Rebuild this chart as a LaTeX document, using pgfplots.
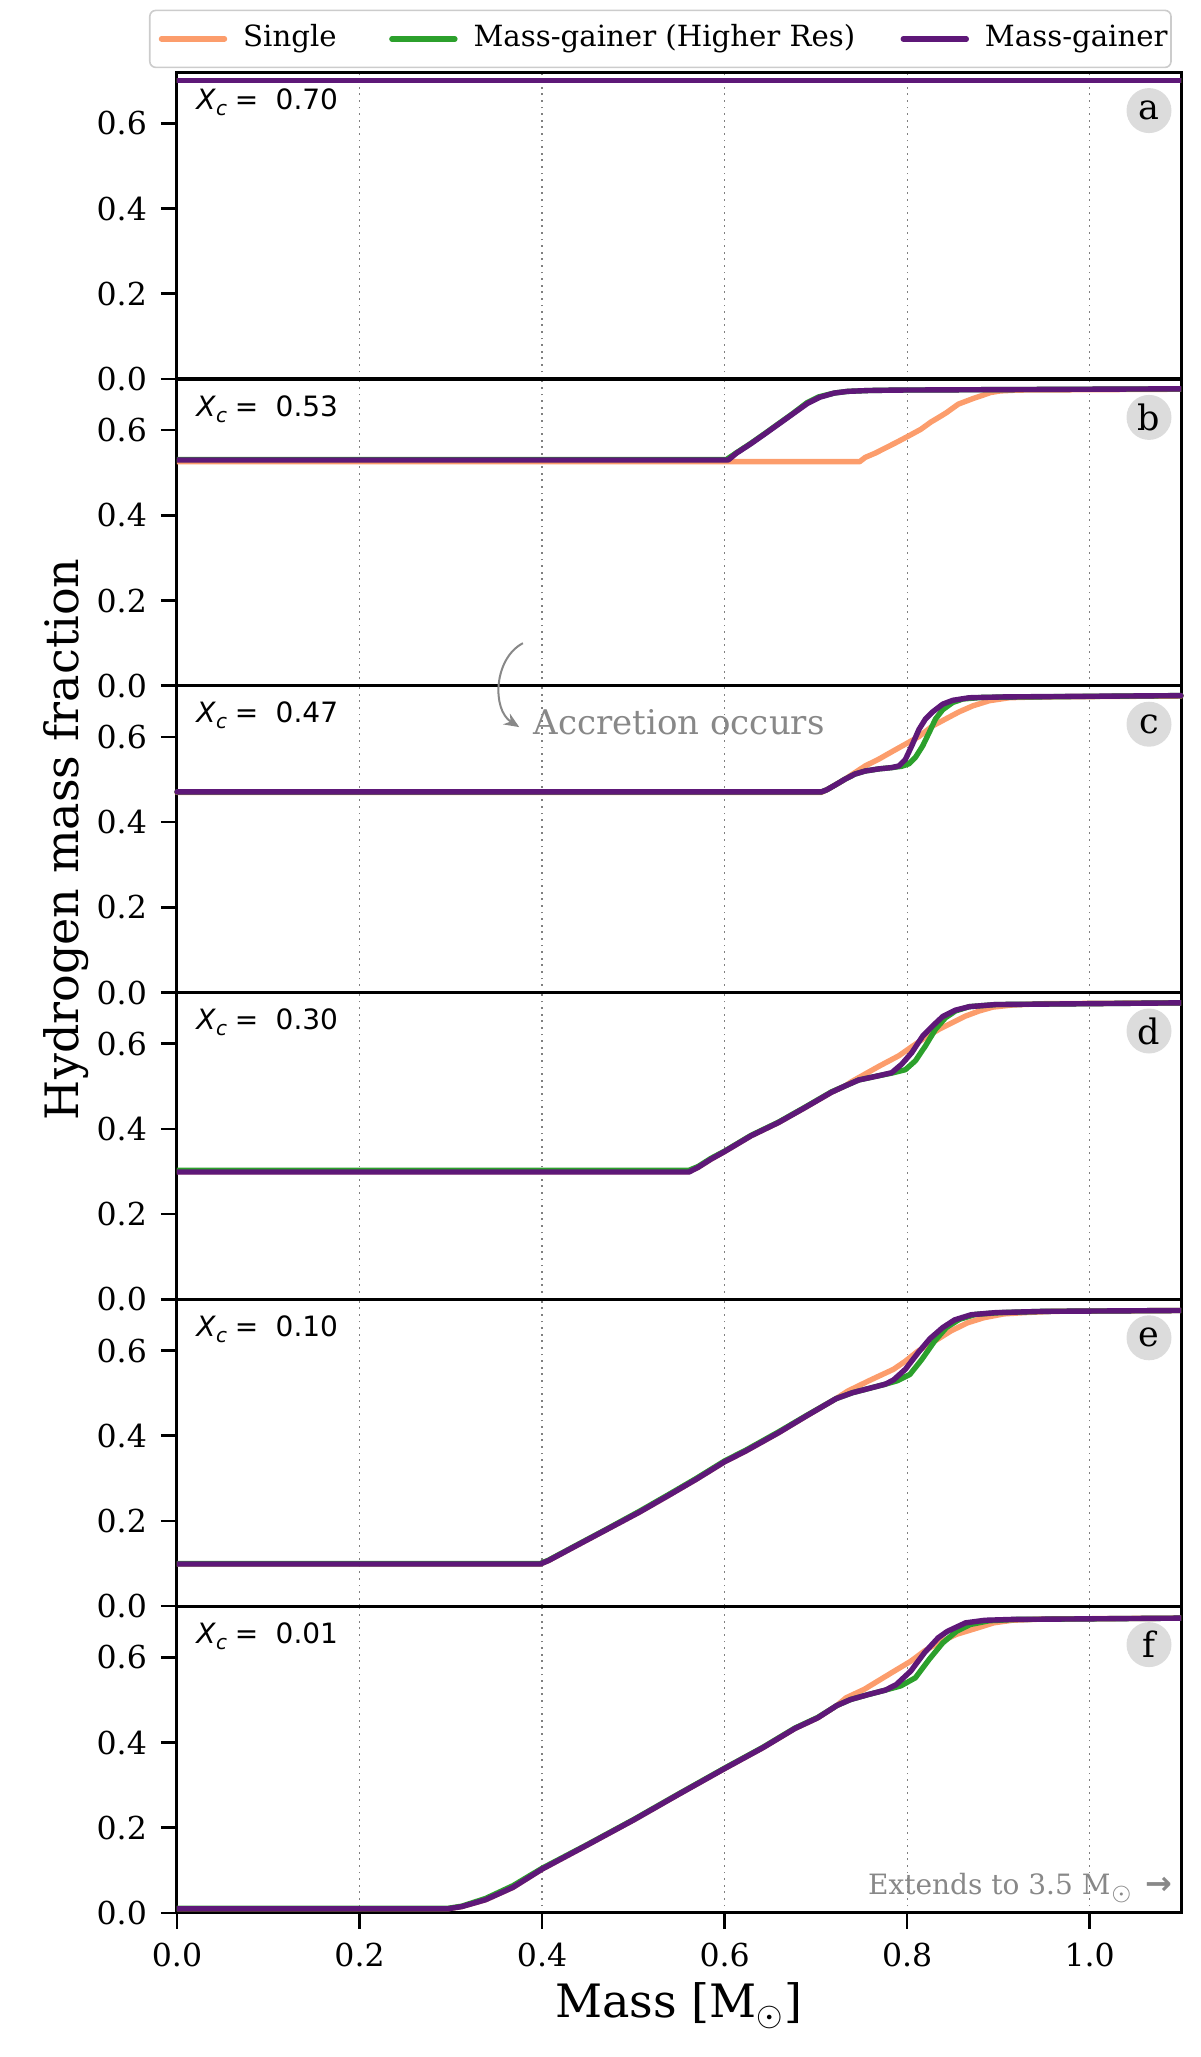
\documentclass[border=0pt]{standalone}
\usepackage{fontspec}
\setmainfont{DejaVu Serif}
\newfontfamily\dvsans{DejaVu Sans}
\usepackage{pgfplots}
\pgfplotsset{compat=1.18}
\usetikzlibrary{arrows.meta}

\definecolor{cSingle}{RGB}{252,157,108}
\definecolor{cHR}{RGB}{44,160,44}
\definecolor{cMG}{RGB}{94,24,120}
\definecolor{circ}{RGB}{220,220,220}
\definecolor{annot}{RGB}{136,136,136}

\newcommand{\xc}[1]{{\dvsans\fontsize{7}{8}\selectfont\textit{X}\raisebox{-0.22em}{\fontsize{5}{6}\selectfont\textit{c}}\hspace{0.28em}=\hspace{0.62em}#1}}

\pgfplotsset{
 panel/.style={
  scale only axis, width=251pt, height=76.7pt,
  xmin=0, xmax=1.1, ymin=0, ymax=0.72,
  axis line style={line width=0.75pt},
  xtick={0,0.2,0.4,0.6,0.8,1.0},
  ytick={0,0.2,0.4,0.6},
  xmajorgrids,
  major grid style={black!50, line width=0.3pt, dash pattern=on 0.45pt off 1.2pt},
  tick align=outside, xtick pos=lower, ytick pos=left,
  major tick length=4pt,
  every tick/.style={black, line width=0.65pt},
  tick label style={font=\fontsize{7.9}{9}\selectfont},
  /pgf/number format/assume math mode=true,
  yticklabel style={/pgf/number format/.cd, fixed, fixed zerofill, precision=1},
  xticklabel style={/pgf/number format/.cd, fixed, fixed zerofill, precision=1},
  every axis plot/.append style={line width=1.35pt, line join=round, line cap=round},
 },
 inner/.style={xticklabels={}, xtick style={draw=none}},
}

\newcommand{\tag}[1]{\node[circle, fill=circ, minimum size=11.25pt, inner sep=0pt, font=\fontsize{8.75}{9}\selectfont] at ([xshift=-8pt,yshift=-9.6pt]rel axis cs:1,1) {#1};}
\newcommand{\xclabel}[1]{\node[anchor=base west, inner sep=0pt] at ([xshift=4.65pt,yshift=-9.25pt]rel axis cs:0,1) {\xc{#1}};}

\begin{document}
\begin{tikzpicture}

% ---------------- panel a
\begin{axis}[panel, inner, at={(0,383.5pt)},
  legend columns=3,
  legend cell align=left,
  legend image code/.code={\draw[#1, line width=1.35pt] (0pt,0pt) -- (15.75pt,0pt);},
  legend style={at={(rel axis cs:0,1)}, anchor=south west, xshift=-7pt, yshift=1pt,
    draw=black!20, line width=0.4pt, rounded corners=1.5pt,
    font=\fontsize{7.3}{8.5}\selectfont,
    inner xsep=2.25pt, inner ysep=3.6pt,
    nodes={inner xsep=0pt, inner ysep=0pt},
    /tikz/every odd column/.append style={column sep=4pt},
    /tikz/every even column/.append style={column sep=0pt}},
]
\addplot[cSingle] coordinates {(0,0.700) (1.1,0.700)};
\addlegendentry{\makebox[36.5pt][l]{Single}}
\addplot[cHR] coordinates {(0,0.700) (1.1,0.700)};
\addlegendentry{\makebox[106.75pt][l]{Mass-gainer (Higher Res)}}
\addplot[cMG] coordinates {(0,0.700) (1.1,0.700)};
\addlegendentry{\makebox[44.25pt][l]{Mass-gainer}}
\xclabel{0.70}
\tag{a}
\end{axis}

% ---------------- panel b
\begin{axis}[panel, inner, at={(0,306.8pt)}]
\addplot[cSingle] coordinates {(0,0.526) (0.748,0.526) (0.754,0.536) (0.765,0.546) (0.788,0.571) (0.803,0.588) (0.815,0.602) (0.826,0.619) (0.837,0.633) (0.843,0.641) (0.856,0.661) (0.872,0.674) (0.883,0.682) (0.891,0.688) (0.902,0.692) (0.921,0.694) (1.1,0.696)};
\addplot[cHR] coordinates {(0,0.531) (0.602,0.531) (0.613,0.547) (0.628,0.568) (0.644,0.592) (0.659,0.615) (0.674,0.638) (0.690,0.664) (0.703,0.678) (0.720,0.687) (0.735,0.691) (0.758,0.693) (0.788,0.694) (1.1,0.697)};
\addplot[cMG] coordinates {(0,0.530) (0.604,0.530) (0.613,0.546) (0.628,0.567) (0.644,0.591) (0.659,0.614) (0.674,0.637) (0.691,0.663) (0.704,0.677) (0.720,0.687) (0.735,0.691) (0.758,0.693) (0.788,0.694) (1.1,0.697)};
\xclabel{0.53}
\tag{b}
\end{axis}

% ---------------- panel c
\begin{axis}[panel, inner, at={(0,230.1pt)}, clip=false,
  ylabel={Hydrogen mass fraction},
  ylabel style={font=\fontsize{11.5}{13}\selectfont, at={([xshift=-24.5pt]rel axis cs:0,0.5)}, anchor=base, rotate=0},
]
\addplot[cSingle] coordinates {(0,0.470) (0.706,0.470) (0.712,0.476) (0.721,0.487) (0.732,0.501) (0.739,0.511) (0.754,0.532) (0.769,0.548) (0.783,0.565) (0.798,0.583) (0.813,0.601) (0.828,0.626) (0.842,0.642) (0.857,0.659) (0.872,0.673) (0.890,0.685) (0.912,0.692) (0.945,0.694) (1.1,0.696)};
\addplot[cHR] coordinates {(0,0.471) (0.706,0.471) (0.712,0.476) (0.721,0.487) (0.732,0.501) (0.743,0.513) (0.754,0.520) (0.769,0.525) (0.783,0.528) (0.794,0.531) (0.802,0.537) (0.809,0.552) (0.817,0.579) (0.824,0.610) (0.831,0.642) (0.839,0.664) (0.850,0.681) (0.861,0.689) (0.883,0.693) (1.1,0.697)};
\addplot[cMG] coordinates {(0,0.471) (0.706,0.471) (0.712,0.476) (0.721,0.487) (0.732,0.501) (0.743,0.513) (0.754,0.520) (0.769,0.525) (0.783,0.528) (0.791,0.532) (0.798,0.547) (0.805,0.579) (0.813,0.618) (0.820,0.642) (0.828,0.659) (0.839,0.677) (0.850,0.686) (0.868,0.692) (0.908,0.694) (1.1,0.697)};
\xclabel{0.47}
\tag{c}
\node[anchor=base west, inner sep=0pt, text=annot, font=\fontsize{8.5}{9}\selectfont] at (axis cs:0.390,0.605) {Accretion occurs};
\draw[annot, line width=0.5pt, -{Stealth[length=3.8pt, width=3.2pt]}] (axis cs:0.379,0.820) to[bend right=60] (axis cs:0.375,0.623);
\end{axis}

% ---------------- panel d
\begin{axis}[panel, inner, at={(0,153.4pt)}]
\addplot[cSingle] coordinates {(0,0.300) (0.561,0.300) (0.571,0.310) (0.585,0.329) (0.6,0.347) (0.629,0.384) (0.659,0.415) (0.688,0.450) (0.717,0.486) (0.732,0.501) (0.739,0.511) (0.754,0.529) (0.769,0.547) (0.791,0.572) (0.805,0.593) (0.820,0.615) (0.835,0.634) (0.850,0.650) (0.864,0.665) (0.879,0.677) (0.894,0.686) (0.916,0.691) (0.950,0.694) (1.1,0.696)};
\addplot[cHR] coordinates {(0,0.303) (0.561,0.303) (0.571,0.312) (0.585,0.331) (0.6,0.348) (0.629,0.385) (0.659,0.416) (0.688,0.451) (0.717,0.487) (0.732,0.501) (0.747,0.515) (0.769,0.525) (0.783,0.531) (0.798,0.539) (0.809,0.560) (0.820,0.595) (0.831,0.634) (0.842,0.661) (0.853,0.677) (0.868,0.687) (0.897,0.692) (1.1,0.696)};
\addplot[cMG] coordinates {(0,0.299) (0.561,0.299) (0.571,0.310) (0.585,0.329) (0.6,0.347) (0.629,0.384) (0.659,0.415) (0.688,0.450) (0.717,0.486) (0.732,0.501) (0.747,0.515) (0.769,0.525) (0.783,0.532) (0.794,0.552) (0.805,0.579) (0.817,0.618) (0.828,0.642) (0.839,0.664) (0.853,0.679) (0.868,0.687) (0.897,0.692) (1.1,0.696)};
\xclabel{0.30}
\tag{d}
\end{axis}

% ---------------- panel e
\begin{axis}[panel, inner, at={(0,76.7pt)}]
\addplot[cSingle] coordinates {(0,0.099) (0.398,0.099) (0.407,0.107) (0.434,0.138) (0.470,0.179) (0.506,0.220) (0.537,0.258) (0.569,0.298) (0.6,0.339) (0.623,0.364) (0.659,0.407) (0.690,0.447) (0.722,0.487) (0.735,0.505) (0.758,0.529) (0.785,0.556) (0.798,0.575) (0.812,0.599) (0.830,0.622) (0.848,0.646) (0.866,0.665) (0.884,0.677) (0.906,0.686) (0.929,0.689) (0.960,0.692) (1.1,0.694)};
\addplot[cHR] coordinates {(0,0.100) (0.398,0.100) (0.407,0.108) (0.434,0.139) (0.470,0.180) (0.506,0.222) (0.537,0.260) (0.569,0.300) (0.6,0.341) (0.623,0.366) (0.659,0.409) (0.690,0.448) (0.722,0.487) (0.740,0.501) (0.758,0.511) (0.776,0.521) (0.789,0.529) (0.803,0.544) (0.816,0.579) (0.830,0.622) (0.843,0.654) (0.857,0.673) (0.875,0.685) (0.902,0.689) (0.950,0.692) (1.1,0.694)};
\addplot[cMG] coordinates {(0,0.099) (0.398,0.099) (0.407,0.107) (0.434,0.138) (0.470,0.179) (0.506,0.220) (0.537,0.258) (0.569,0.298) (0.6,0.339) (0.623,0.364) (0.659,0.407) (0.690,0.447) (0.722,0.487) (0.740,0.501) (0.758,0.511) (0.776,0.521) (0.785,0.531) (0.798,0.556) (0.812,0.595) (0.825,0.628) (0.839,0.654) (0.852,0.672) (0.870,0.684) (0.897,0.689) (0.950,0.692) (1.1,0.694)};
\xclabel{0.10}
\tag{e}
\end{axis}

% ---------------- panel f
\begin{axis}[panel, at={(0,0pt)},
  xlabel={Mass [M$_\odot$]},
  xlabel style={font=\fontsize{11.5}{13}\selectfont, at={([yshift=-26.25pt]rel axis cs:0.5,0)}, anchor=base},
]
\addplot[cSingle] coordinates {(0,0.010) (0.297,0.010) (0.312,0.015) (0.338,0.031) (0.368,0.060) (0.4,0.103) (0.449,0.159) (0.5,0.218) (0.55,0.279) (0.6,0.339) (0.642,0.388) (0.677,0.433) (0.702,0.458) (0.723,0.487) (0.733,0.505) (0.753,0.525) (0.783,0.564) (0.804,0.591) (0.819,0.615) (0.834,0.634) (0.854,0.654) (0.874,0.667) (0.895,0.681) (0.915,0.687) (0.950,0.690) (1.1,0.692)};
\addplot[cHR] coordinates {(0,0.011) (0.297,0.011) (0.312,0.016) (0.338,0.034) (0.368,0.064) (0.4,0.105) (0.449,0.160) (0.5,0.219) (0.55,0.280) (0.6,0.340) (0.642,0.389) (0.677,0.434) (0.702,0.459) (0.723,0.487) (0.738,0.501) (0.758,0.513) (0.776,0.523) (0.793,0.533) (0.809,0.552) (0.824,0.595) (0.839,0.634) (0.854,0.661) (0.869,0.677) (0.890,0.686) (0.920,0.689) (1.1,0.692)};
\addplot[cMG] coordinates {(0,0.010) (0.297,0.010) (0.312,0.015) (0.338,0.031) (0.368,0.060) (0.4,0.103) (0.449,0.159) (0.5,0.218) (0.55,0.279) (0.6,0.339) (0.642,0.388) (0.677,0.433) (0.702,0.458) (0.723,0.487) (0.738,0.501) (0.758,0.513) (0.776,0.523) (0.788,0.536) (0.804,0.568) (0.819,0.611) (0.834,0.646) (0.844,0.661) (0.864,0.681) (0.885,0.687) (0.915,0.689) (1.1,0.692)};
\xclabel{0.01}
\tag{f}
\node[anchor=base east, inner sep=0pt, text=annot, font=\fontsize{7}{8}\selectfont] at ([xshift=-2pt,yshift=4.5pt]rel axis cs:1,0) {Extends to 3.5 M$_\odot$\hspace{0.4em}{\dvsans\bfseries\fontsize{8}{8}\selectfont →}};
\end{axis}

\pgfresetboundingbox
\path[use as bounding box] (-44.25pt,-36pt) rectangle (255.75pt,478.25pt);
\end{tikzpicture}
\end{document}
